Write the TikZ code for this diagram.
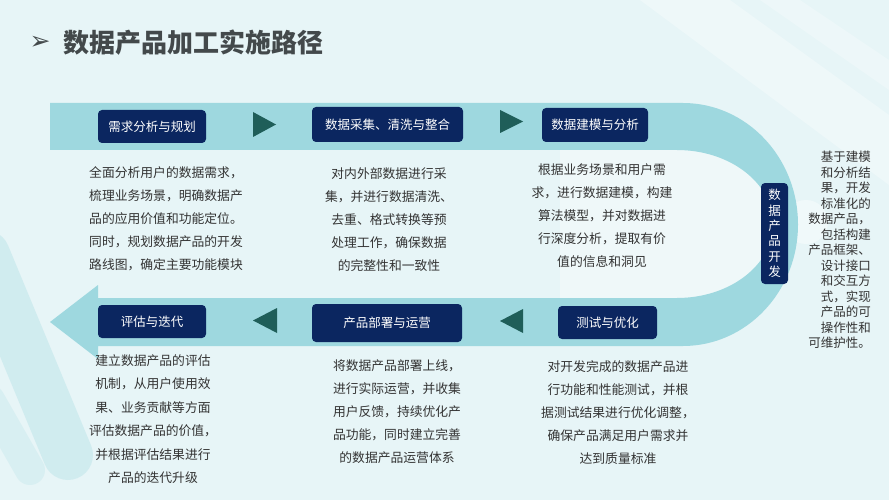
\documentclass[tikz,border=0pt]{standalone}
\usepackage{fontspec}
\newfontfamily\cjk{Noto Sans CJK SC}
\newfontfamily\symb{DejaVu Sans}
\usetikzlibrary{calc}

\definecolor{bgcol}{HTML}{E7F5F7}
\definecolor{bandcol}{HTML}{9ED8DF}
\definecolor{navy}{HTML}{0B2660}
\definecolor{tealtri}{HTML}{1F5E59}
\definecolor{txtcol}{HTML}{333333}
\definecolor{titlecol}{HTML}{43494B}

\tikzset{
	stagebox/.style={fill=navy, rounded corners=4pt, text=white, inner sep=0pt, font=\cjk\fontsize{12.5}{15.3}\selectfont},
	desc/.style={text=txtcol, align=center, inner sep=0pt, font=\cjk\fontsize{12.8}{23}\selectfont},
	tri/.style={fill=tealtri},
}

\begin{document}
\begin{tikzpicture}[x=1pt, y=-1pt]
		%%%%% BACKGROUND %%%%%
		\useasboundingbox (0,0) rectangle (889,500);
		\fill[bgcol] (0,0) rectangle (889,500);
		\fill[white, opacity=0.3] (640,0) -- (730,0) -- (889,115) -- (889,185) -- cycle;
		\fill[white, opacity=0.25] (760,0) -- (800,0) -- (889,60) -- (889,90) -- cycle;
		\draw[line width=50pt, line cap=round, bandcol, opacity=0.3] (-15,255) -- (68,455);
		\draw[line width=30pt, line cap=round, bandcol, opacity=0.2] (-10,400) -- (30,470);
		\fill[white, opacity=0.35] (677,150) arc[start angle=-90, end angle=90, x radius=96, y radius=74] -- (560,298) -- (560,150) -- cycle;
		\fill[white, opacity=0.4] (806,222) circle (22);
		
		%%%%% BAND %%%%%
		\fill[bandcol] (50,103) -- (683,103) arc[start angle=-90, end angle=90, x radius=115, y radius=121.5]
			-- (98,346) -- (98,359) -- (50,322) -- (98,285) -- (98,298)
			-- (677,298) arc[start angle=90, end angle=-90, x radius=96, y radius=74] -- (50,150) -- cycle;
		
		%%%%% TITLE %%%%%
		\node[text=titlecol, font=\symb\fontsize{25}{28}\selectfont] (mark) at (40,43) {➢};
		\node[anchor=west, text=titlecol, inner sep=0pt, font=\cjk\bfseries\fontsize{26}{30}\selectfont] (title) at (63,43) {数据产品加工实施路径};
		
		%%%%% STAGES %%%%%
		\node[stagebox, minimum width=108pt, minimum height=33pt] (plan) at (152,126.5) {需求分析与规划};
		\node[stagebox, minimum width=151pt, minimum height=35pt] (collect) at (387.5,124.5) {数据采集、清洗与整合};
		\node[stagebox, minimum width=106pt, minimum height=34pt] (model) at (595,125) {数据建模与分析};
		\node[stagebox, align=center, minimum width=27pt, minimum height=101pt] (develop) at (774.5,233.5) {数\\据\\产\\品\\开\\发};
		\node[stagebox, minimum width=99pt, minimum height=33pt] (test) at (607.5,322.5) {测试与优化};
		\node[stagebox, minimum width=150pt, minimum height=38pt] (deploy) at (387,323) {产品部署与运营};
		\node[stagebox, minimum width=108pt, minimum height=33pt] (assess) at (152,321.5) {评估与迭代};
		
		\fill[tri] (253,112) -- (276,124.5) -- (253,137) -- cycle;
		\fill[tri] (500,110) -- (523,121.5) -- (500,133) -- cycle;
		\fill[tri] (523,309) -- (500,321) -- (523,333) -- cycle;
		\fill[tri] (277,308) -- (253,320.5) -- (277,333) -- cycle;
		
		%%%%% TEXTS %%%%%
		\node[desc] (plantext) at (166,219) {全面分析用户的数据需求，\\梳理业务场景，明确数据产\\品的应用价值和功能定位。\\同时，规划数据产品的开发\\路线图，确定主要功能模块};
		\node[desc] (collecttext) at (389,220) {对内外部数据进行采\\集，并进行数据清洗、\\去重、格式转换等预\\处理工作，确保数据\\的完整性和一致性};
		\node[desc] (modeltext) at (602,216) {根据业务场景和用户需\\求，进行数据建模，构建\\算法模型，并对数据进\\行深度分析，提取有价\\值的信息和洞见};
		\node[desc, align=right, anchor=east, font=\cjk\fontsize{12.5}{15.5}\selectfont] (developtext) at (871,250) {基于建模\\和分析结\\果，开发\\标准化的\\数据产品，\\包括构建\\产品框架、\\设计接口\\和交互方\\式，实现\\产品的可\\操作性和\\可维护性。};
		\node[desc] (testtext) at (618,413) {对开发完成的数据产品进\\行功能和性能测试，并根\\据测试结果进行优化调整，\\确保产品满足用户需求并\\达到质量标准};
		\node[desc] (deploytext) at (397,412) {将数据产品部署上线，\\进行实际运营，并收集\\用户反馈，持续优化产\\品功能，同时建立完善\\的数据产品运营体系};
		\node[desc, font=\cjk\fontsize{12.8}{23.5}\selectfont] (assesstext) at (153,419) {建立数据产品的评估\\机制，从用户使用效\\果、业务贡献等方面\\评估数据产品的价值，\\并根据评估结果进行\\产品的迭代升级};
		
\end{tikzpicture}
\end{document}
